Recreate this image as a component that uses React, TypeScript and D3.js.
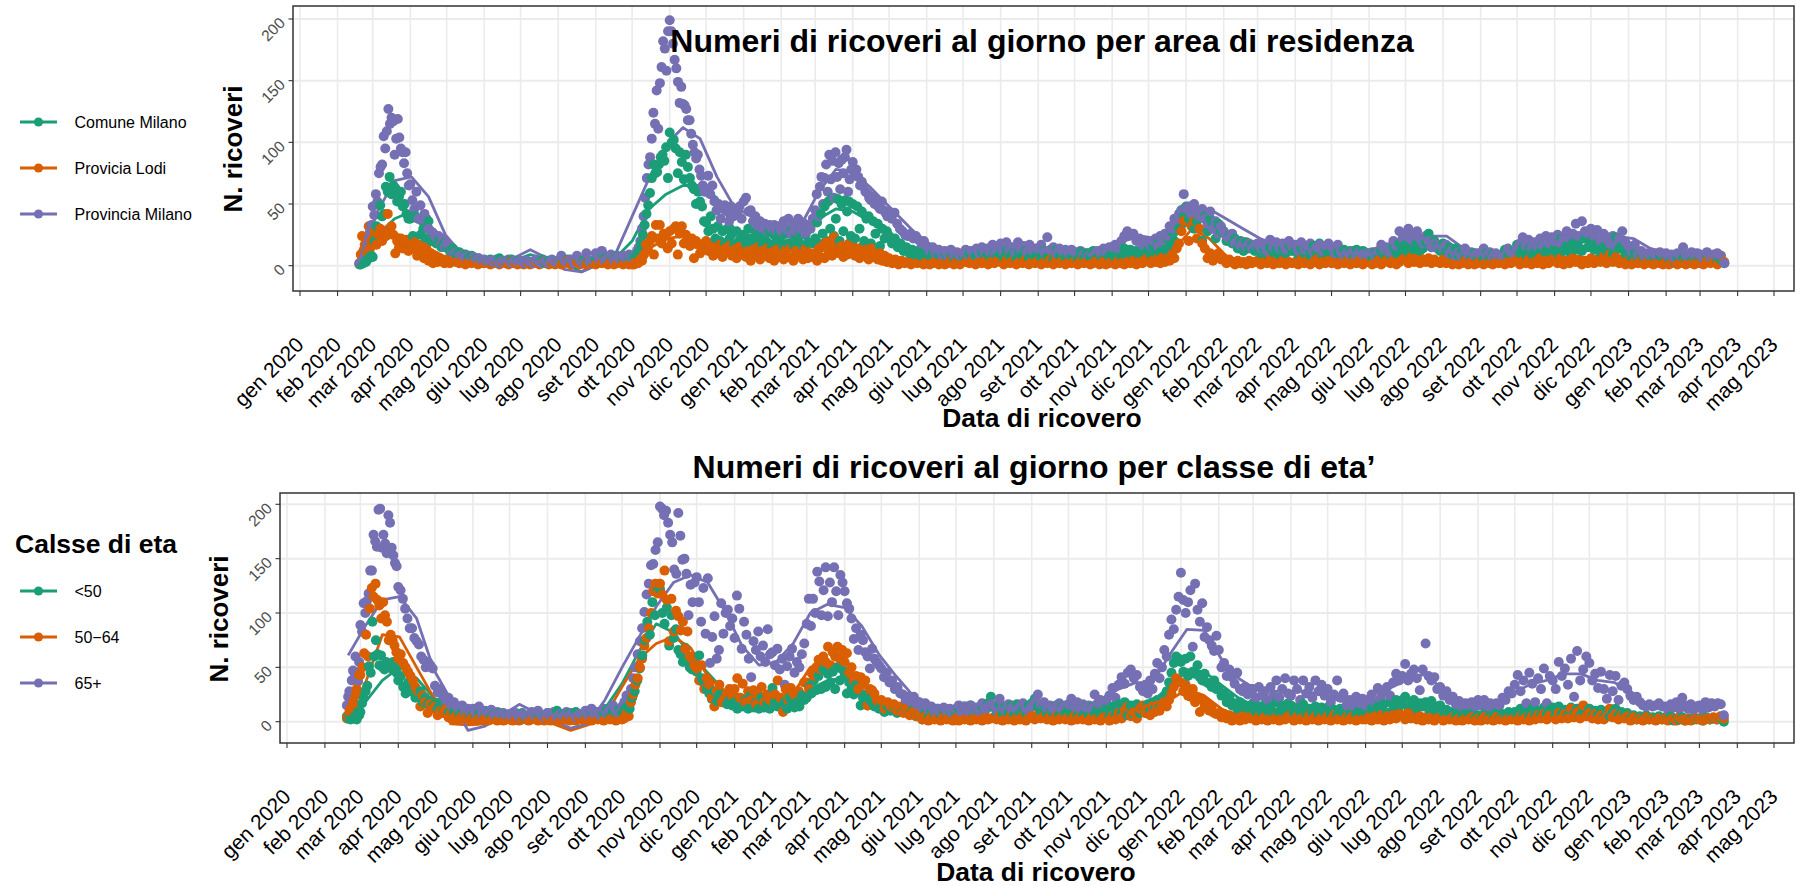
import React from "react";
import * as d3 from "d3";

const monthNames = ["gen","feb","mar","apr","mag","giu","lug","ago","set","ott","nov","dic"];
const colors = ["#1B9E77", "#D95F02", "#7570B3"];
const yTicks = [0, 50, 100, 150, 200];
const firstDay = new Date(Date.UTC(2020, 1, 19));
const lastDay = new Date(Date.UTC(2023, 2, 21));
const lineStart = new Date(Date.UTC(2020, 1, 20));
const areaNames = ["Comune Milano", "Provicia Lodi", "Provincia Milano"];
const ageNames = ["<50", "50\u221264", "65+"];

// One row per month, February 2020 to March 2023: daily admissions.
const comuneMilano = [
[1,1,2,2,3,3,5,6,7,8],
[7,20,32,25,49,40,42,64,60,72,58,65,63,52,56,60,48,50,42,38],
[38,24,40,38,25,30,22,36,20,24,18,20,15,18],
[15,12,14,9,11,7,9,6,8,5,6,4],
[4,3,5,2,4,6,3,4,2,5,3,4],
[3,2,4,3,2,4,3,5,2,4,3,2],
[4,2,3,5,3,2,4,3,4,2,3,4],
[5,3,11,6,4,7,5,8,4,6,5,7],
[6,8,7,9,12,18,25,33,42,49,59,71,82,75,76,82,88,90,85,96,71],
[108,100,102,95,75,92,84,70,90,80,71,65,62,50,60,52,48,36],
[35,28,40,30,22,32,20,28,18,30,22,26,17,28,20,24],
[25,18,30,22,15,28,20,26,17,24,19,28,16,25,20,27],
[24,16,26,18,28,17,24,20,27,16,25,19,30,18],
[22,35,18,42,26,48,20,52,30,55,24,38,54,20,50,28,53,44,52,24],
[50,22,48,30,44,20,38,40,18,36,26,34,16,30,22,28],
[24,18,22,15,18,12,15,10,13,9,12,8,10],
[11,8,10,6,9,7,10,6,8,5,9,7],
[8,5,10,6,8,7,11,6,9,5,10,7],
[9,6,12,7,10,5,11,8,12,6,10,7],
[10,6,12,7,9,5,13,8,11,6,10,7],
[9,5,11,6,10,7,12,6,9,5,11,7],
[10,6,12,7,14,8,13,7,12,8,15,10],
[14,9,16,10,18,11,20,13,22,15,28,20,36,30,45,40],
[48,38,42,30,36,40,20,40,28,38,34,22,34,28],
[28,20,24,18,22,14,20,12,19,14,17,12],
[16,10,14,9,15,11,13,8,14,10,17,12],
[15,9,14,10,15,8,16,11,18,9,14,10],
[12,7,11,8,13,9,12,7,13,8,12,9],
[10,6,11,7,12,8,14,9,15,10,18,12],
[17,11,20,13,18,12,14,19,26,15,20,16,12],
[18,12,15,9,14,8,11,6,9,7,10,6],
[8,5,10,6,9,5,8,6,13,8,10,12],
[17,10,15,8,14,9,13,10,16,11,15,9],
[14,10,22,12,16,11,18,13,20,12,22,15],
[20,13,18,11,15,12,16,10,23,14,16,10],
[12,6,10,5,8,6,9,4,7,5,8,6],
[7,4,6,3,7,5,6,3,7,4,6,5],
[6,3,7,4,6,3,5,2],
];
const provinciaLodi = [
[2,9,24,12,17,22,10,32,14,20],
[22,28,17,25,30,20,28,24,42,30,32,25,10,20,15,22,14,18,21,12],
[18,14,19,8,17,12,6,15,4,10,2,8,3,6,4,2],
[5,2,4,3,2,5,1,3,2,4,1,3],
[2,3,1,2,4,1,3,2,1,3,2,1],
[2,1,3,1,2,3,1,2,4,1,2,1],
[3,1,2,4,1,2,3,1,2,1,3,2],
[1,3,2,4,1,3,1,2,3,1,2,1],
[1,1,3,2,5,4,9,17,13,20,24,9,33,22,33,18,26,24,14],
[28,18,30,32,9,26,32,18,25,22,16,22,6,20,17,10,14,18],
[20,12,18,8,15,10,17,7,14,11,16,8,13,6,15,9],
[14,7,12,4,13,8,15,5,12,9,14,6,11,4,13,8],
[12,5,13,7,15,4,12,8,11,5,14,6,10,7],
[10,4,14,7,16,6,19,9,17,8,23,12,18,10,16,7,15,9,18,11],
[16,8,14,6,15,9,13,5,14,7,12,5,10,4,8,3],
[6,2,5,1,4,2,3,1,4,2,3,1],
[3,1,2,4,1,3,1,2,4,1,3,1],
[10,3,2,5,1,3,2,4,1,3,2,4],
[3,1,5,2,4,1,3,2,5,1,3,2],
[4,1,3,2,5,1,6,2,4,1,3,2],
[3,1,4,2,3,1,2,4,1,3,1,2],
[3,1,4,2,1,3,2,4,1,3,2,5],
[4,2,5,3,6,2,7,3,5,4,9,6,14,18,28,36],
[37,20,32,36,22,30,18,14,6,10,4,8,10,5],
[6,2,5,3,1,4,2,3,1,4,2,3],
[4,1,3,2,5,1,3,2,4,1,3,2],
[3,1,5,2,4,1,3,5,1,3,2,4],
[2,5,1,3,2,4,1,3,2,5,1,3],
[3,1,2,4,1,3,5,2,4,1,3,5],
[6,2,7,3,6,2,5,3,6,2,5,3,2],
[5,2,4,1,3,1,2,4,1,3,1,2],
[4,1,3,2,1,3,2,4,1,3,2,4],
[5,1,4,2,5,1,3,2,6,1,4,2,5],
[5,2,6,1,4,2,6,3,5,1,4,2],
[6,2,5,3,7,2,9,3,7,2,5,1],
[4,1,3,2,4,1,3,2,1,3,2,1],
[3,1,2,4,1,3,2,1,3,2,1,3],
[2,1,4,2,6,1,8,3],
];
const provinciaMilano = [
[2,2,3,5,8,12,17,22,28,33],
[48,41,58,52,75,80,82,105,95,109,127,115,120,117,90,103,119,104,95,92,83,92,75,65],
[66,53,46,60,38,49,36,42,38,30,28,27,25,22,24,17,22,15],
[18,14,12,10,11,8,9,7,8,6,7,5,6,4],
[5,3,4,3,5,2,4,3,5,2,4,3],
[4,2,4,3,2,5,3,2,4,2,5,3],
[3,8,4,3,5,2,8,4,2,10,3,4],
[10,5,12,4,6,9,4,7,5,8,6,9],
[6,7,9,12,15,20,30,40,55,71,82,88,103,124,115,142,111,148,161,182,176,158,190],
[199,190,180,167,160,149,132,145,131,130,127,118,118,107,98,92,87,90,78,73,65,60],
[62,73,58,65,52,45,50,38,46,49,44,36,48,40,46,42,48,38],
[52,55,44,45,36,40,32,36,30,34,28,33,30,33,28,32],
[28,36,30,38,26,34,28,38,30,35,26,33,30,38],
[45,58,40,64,72,50,71,82,60,90,70,85,55,92,72,83,62,86,75,88,94,60,70,78],
[84,76,78,72,65,68,64,60,59,55,53,56,50,53,48,46,52,45,43,40],
[44,38,43,34,30,28,25,24,26,22,24,21,18,20],
[16,12,15,10,13,9,12,8,13,9,11,8],
[10,13,8,12,9,14,10,15,9,14,11,17,10,16],
[18,11,19,12,15,10,19,13,16,11,17,12,14],
[14,17,11,23,13,15,10,14,12,13,10,13],
[11,8,12,9,10,8,11,9,12,10,14,11,15],
[15,17,14,20,24,28,25,26,20,22,17,20],
[18,16,20,22,16,24,20,26,24,32,30,38,36,42,45,58],
[46,48,42,50,44,40,46,38,34,44,30,36,26,32],
[28,24,22,26,18,20,16,19,15,18,14,17],
[18,14,17,12,21,15,19,14,18,13,20,16],
[17,12,19,13,16,18,11,15,17,12,16,18],
[15,10,17,11,8,11,9,12,8,11,9,10],
[9,11,8,12,17,13,15,11,20,16,28,22],
[24,30,21,26,28,22,18,24,20,15,18,14,17],
[14,17,10,13,8,11,7,14,9,11,8,10],
[10,14,8,11,7,10,8,9,8,14,11,10],
[14,18,23,16,21,14,19,15,22,16,24,18,23],
[20,25,18,23,28,22,26,34,24,36,28,26],
[30,24,29,20,26,22,18,24,16,22,28,19],
[16,11,17,9,12,8,10,9,10,8,11,9],
[10,7,9,6,10,8,15,9,7,11,8,10],
[9,6,11,7,9,10,8,2],
];
const under50 = [
[5,3,6,2,5,3,4,3,2,9,6],
[9,17,22,28,33,51,45,92,60,75,62,52,61,50,48,55,50,52,49,55,50,45],
[38,42,32,26,36,28,31,22,25,28,18,22,16,19,14],
[16,12,18,10,13,8,11,9,12,7,9,6,8,5],
[7,4,8,3,6,9,4,7,3,8,5,6],
[6,3,7,4,8,3,5,7,3,6,4,5],
[8,4,6,10,5,7,3,8,5,9,4,6],
[8,5,10,6,9,5,8,11,6,10,7,11],
[8,11,14,12,22,28,38,49,61,75,92,80,110,98,120],
[122,100,90,105,70,98,77,85,66,62,55,68,58,50,48,52],
[46,61,40,35,30,26,21,28,19,25,18,24,16,20,15],
[18,12,22,14,20,12,24,13,18,12,22,13,16,12],
[31,18,14,20,13,18,12,22,16,13,18,14,24,20],
[22,32,26,38,29,42,30,48,32,44,36,46,30,50,38,48],
[42,26,36,30,25,34,28,15,22,25,15,20,18,14,17,12],
[16,9,14,10,15,8,13,9,12,7,11,5],
[6,2,8,4,10,5,12,6,9,3,10,6],
[8,12,5,14,7,15,6,12,8,14,10,17,23],
[14,9,16,7,14,8,15,6,16,8,13,7,15],
[17,21,14,8,16,7,13,8,15,6,14,8],
[13,7,14,5,12,6,14,5,13,7,12,5,14],
[12,5,14,6,16,8,18,6,15,7,16,8],
[14,8,16,10,18,12,20,13,22,24,28,36,45,54,60,58],
[55,46,58,42,60,46,44,52,41,38,44,36,35,32,38,30],
[30,24,26,18,22,15,17,12,18,10,14,12,15],
[17,9,14,8,16,10,13,7,18,9,15,8,17],
[15,8,13,9,16,7,12,8,14,7,13,8],
[13,7,11,6,12,8,10,5,11,7,10,6],
[9,6,12,8,14,9,16,8,18,11,20,14],
[20,23,13,16,20,12,17,14,18,12,19,11,14],
[15,9,11,7,9,5,8,4,7,5,8,3],
[6,3,7,2,6,4,8,3,7,5,9,6],
[9,6,12,7,11,5,12,6,10,6,13,7,11],
[13,6,14,7,11,6,13,7,12,5,10,6],
[12,5,10,6,11,4,9,5,8,12,6,9,7],
[8,3,6,2,5,3,6,2,4,3,5,2],
[4,2,5,1,3,2,4,1,3,2,4,2],
[3,1,4,2,3,2,4,0],
];
const age50to64 = [
[3,5,9,12,8,18,15,25,30,37,43],
[43,50,63,80,60,104,123,115,127,112,107,95,110,98,92,75,80,75,70,64],
[58,62,54,50,46,42,38,32,28,14,24,18,8,16,12],
[14,6,10,8,12,4,8,3,6,2,5,3,6,1],
[4,1,3,2,4,1,2,3,1,3,1,2],
[2,1,3,1,2,4,1,2,3,1,2,1],
[3,1,2,4,1,3,2,1,3,1,4,2],
[2,3,1,4,2,3,1,4,2,3,1,4],
[2,3,8,5,18,25,34,40,50,58,70,77,86,100,120,127,118],
[127,117,139,112,74,113,83,102,97,84,92,67,83,60,58,52],
[49,38,52,30,40,34,22,14,28,34,18,21,26,30,24],
[30,40,22,35,18,28,20,29,16,24,32,18,25,20],
[20,25,38,22,9,30,20,31,26,22,28,24,36],
[36,30,45,42,50,57,48,60,55,69,52,64,60,69,58,66],
[55,63,45,50,38,42,30,41,34,38,15,30,29,26,20,18],
[20,12,18,14,16,10,14,8,12,6,9,5],
[6,2,5,1,4,2,3,1,4,2,3,1],
[3,1,4,2,5,1,3,2,5,1,4,2,3],
[4,2,5,1,3,2,6,1,4,2,5,1,3],
[5,2,6,3,5,2,4,1,5,2,4,2],
[4,1,5,2,4,2,3,1,4,2,3,1,4],
[4,1,5,2,8,3,10,14,5,9,3,12],
[15,8,12,6,14,9,15,10,16,18,14,20,26,32,40,36],
[36,28,34,24,23,30,18,22,9,20,14,16,10,14,8,7],
[8,4,7,3,6,1,5,3,1,5,2,4,3],
[4,1,5,2,4,1,3,2,4,1,3,2,5],
[3,1,5,2,4,1,6,2,5,1,4,2],
[5,1,6,2,3,1,4,2,5,1,3,2],
[2,4,1,5,2,6,1,5,2,6,3,7],
[6,2,8,3,7,2,5,1,4,2,4,1,3],
[4,1,3,2,4,1,3,1,3,2,4,1],
[3,1,4,2,3,1,4,2,3,1,3,2],
[3,1,5,2,4,1,5,2,6,3,7,2,6],
[5,2,8,3,7,3,12,4,9,3,15,5],
[8,3,7,2,6,2,5,12,4,7,2,6,3],
[5,1,4,2,3,1,4,2,3,1,3,2],
[3,1,2,3,1,4,2,1,3,1,2,3],
[2,1,3,2,4,2,5,3],
];
const over65 = [
[15,23,28,20,38,47,40,60,45,38,55],
[89,83,109,100,111,118,139,139,172,166,161,195,196,160,172,164,155,190,183,160,153,146,143],
[124,121,113,104,95,86,86,77,74,71,60,57,50,55,52,49],
[33,27,30,24,20,22,15,18,14,12,15,10,12,9],
[12,8,14,7,10,8,11,6,9,7,8,5],
[7,5,8,4,7,5,6,9,5,10,6,4],
[8,5,9,4,7,5,9,6,8,4,7,6],
[10,6,12,7,9,5,12,7,11,15,10,8],
[14,18,24,21,30,40,50,62,74,86,101,117,127,144,145,158,165],
[198,196,190,194,183,172,165,140,136,192,171,149,150,136,98,126,110,128],
[133,110,92,123,81,132,54,78,97,58,66,109,81,100,103,88,95],
[77,116,104,67,92,80,58,41,74,66,83,60,70,55,85,62],
[64,52,67,48,58,34,51,60,67,45,55,50,62,72],
[90,113,88,113,100,138,129,98,121,142,97,128,110,142,120,98,135,128],
[120,109,104,95,76,86,66,80,75,64,60,49,67,58,55,52],
[49,41,45,36,38,30,32,26,25,20,23,18,23,16],
[18,13,17,11,14,10,12,9,13,10,12,8],
[12,15,9,14,10,15,11,13,10,17,12,14,16],
[15,11,21,14,10,16,12,15,11,14,17,12,10],
[14,18,25,16,18,13,15,12,14,17,12,15],
[16,21,14,18,12,16,13,15,12,25,17,20,16],
[20,24,31,22,34,41,35,45,48,40,43,32],
[28,34,26,38,30,44,54,40,50,66,60,80,94,85,103,115],
[137,112,100,110,121,69,127,103,92,109,78,87,75,70,65,79],
[66,50,54,42,48,41,35,45,30,28,32,25,30],
[30,22,32,24,28,20,32,24,38,22,30,40,26],
[24,38,30,20,38,26,32,22,38,28,34,24],
[30,18,25,38,22,26,15,20,14,23,17,21],
[15,20,25,18,31,22,28,32,24,36,44,38],
[42,53,38,44,48,40,29,48,72,42,38,41,30],
[32,24,28,20,23,16,19,14,17,15,18,14],
[20,15,20,14,17,13,17,15,22,20,28,26],
[34,43,28,38,17,45,35,18,40,30,49,17,42],
[38,30,55,42,49,34,58,23,65,38,48,60],
[54,38,44,31,46,30,21,43,28,42,20,33,36],
[30,24,20,23,18,15,14,16,14,15,17,14],
[14,11,16,13,18,12,22,15,12,16,11,14],
[15,11,18,13,17,14,17,16,6],
];

// Trend lines: one value every 14 days from 20 February 2020.
const comuneTrend = [1,25,38,44,34,18,8,1,1,4,9,5,2,-5,1,6,20,46,58,65,65,55,
30,24,20,20,24,38,46,44,36,26,18,12,9,8,8,8,9,9,9,8,8,8,9,10,11,14,24,38,36,24,16,13,12,11,11,10,9,9,10,13,16,14,9,8,8,8,10,12,14,15,16,15,14,8,6,5,5,4,4];
const lodiTrend = [12,22,26,22,14,7,3,1,2,2,2,2,2,2,2,2,5,14,22,24,20,14,
10,9,9,9,9,12,13,12,10,7,4,3,2,2,2,3,3,3,3,3,2,2,2,2,3,4,14,30,22,8,3,3,3,3,3,3,3,3,3,4,4,4,3,2,3,3,3,3,3,3,4,4,3,2,2,2,2,2,2];
const milanoTrend = [5,44,69,72,56,25,9,-1,1,6,13,6,-3,-5,1,9,40,71,98,112,103,72,
48,40,34,32,34,60,78,76,64,50,36,22,14,12,12,13,14,14,15,13,12,11,12,20,24,22,30,42,46,38,30,22,17,16,15,14,14,11,10,11,15,24,24,14,10,10,10,14,19,21,25,28,24,22,14,10,9,9,9,8];
const under50Trend = [3,18,38,50,40,22,12,2,2,4,7,6,4,4,5,12,35,65,90,82,62,45,28,
22,20,18,20,30,38,40,28,20,12,9,7,8,9,10,11,11,11,10,9,9,10,11,13,17,30,48,46,34,22,14,12,11,11,9,10,11,14,16,15,14,9,6,6,8,9,10,10,9,9,8,8,5,4,3,3,3,3];
const age50Trend = [5,35,80,78,50,22,-2,-3,-2,3,4,3,-2,-8,-3,5,32,58,72,78,68,42,28,
24,22,24,26,50,55,50,35,20,10,4,3,3,3,3,4,4,4,3,3,4,6,8,10,11,20,30,24,12,5,3,3,3,3,3,4,4,4,4,4,4,3,3,3,3,4,5,6,6,6,4,3,3,2,2,2,2,2];
const over65Trend = [61,88,112,115,95,48,20,-8,-4,6,16,8,1,-6,-2,20,50,78,106,128,135,128,102,
70,52,55,72,100,108,105,88,62,42,24,16,13,14,14,15,15,15,15,15,15,20,30,36,36,62,85,84,58,40,30,28,28,28,24,19,20,26,32,40,44,28,20,17,18,26,34,38,44,44,38,36,24,16,14,15,15,14];

const FONT = "'Liberation Sans', Arial, Helvetica, sans-serif";
const TICK = "#333333";
const GRID = "#ebebeb";
const DOT = 5;

type PanelProps = {
  left: number; right: number; top: number; bottom: number;
  xStart: number; xEnd: number; y0: number; y200: number;
  names: string[]; rows: number[][][]; trends: number[][];
  title: string; titleX: number; titleY: number;
  xTitleX: number; xTitleY: number;
  yTitleX: number; yTitleY: number;
  legendTitle?: string; legendTitleY?: number; legendYs: number[];
};

function flatten(rows: number[][]) {
  const out: { t: Date; v: number }[] = [];
  rows.forEach((row, m) => {
    const monthStart = new Date(Date.UTC(2020, 1 + m, 1));
    const monthEnd = new Date(Date.UTC(2020, 2 + m, 1));
    const a = +(monthStart < firstDay ? firstDay : monthStart);
    const b = +(monthEnd > lastDay ? lastDay : monthEnd);
    const isLast = m === rows.length - 1;
    row.forEach((v, j) => {
      const f = isLast ? j / (row.length - 1) : j / row.length;
      out.push({ t: new Date(a + f * (b - a)), v });
    });
  });
  return out;
}

function Panel(p: PanelProps) {
  const x = d3.scaleUtc()
    .domain([new Date(Date.UTC(2020, 0, 1)), new Date(Date.UTC(2023, 4, 1))])
    .range([p.xStart, p.xEnd]);
  const y = d3.scaleLinear().domain([0, 200]).range([p.y0, p.y200]);
  const months = d3.utcMonth.range(new Date(Date.UTC(2020, 0, 1)), new Date(Date.UTC(2023, 4, 2)));
  const lineDate = (i: number) => d3.utcDay.offset(lineStart, i * 14);
  const line = d3.line<number>()
    .defined((_, i) => lineDate(i) <= lastDay)
    .x((_, i) => x(lineDate(i)))
    .y((v) => y(v));

  const pts = p.rows
    .flatMap((rows, s) => flatten(rows).map((d) => ({ ...d, s })))
    .sort((a, b) => +a.t - +b.t || a.s - b.s);

  return (
    <g fontFamily={FONT}>
      {yTicks.map((t) => (
        <line key={t} x1={p.left} x2={p.right} y1={y(t)} y2={y(t)} stroke={GRID} strokeWidth={2} />
      ))}
      {months.map((m) => (
        <line key={+m} x1={x(m)} x2={x(m)} y1={p.top} y2={p.bottom} stroke={GRID} strokeWidth={1.6} />
      ))}
      {p.trends.map((tr, s) => (
        <path key={s} d={line(tr) || ""} fill="none" stroke={colors[s]} strokeWidth={2.8} strokeLinejoin="round" />
      ))}
      {pts.map((d, i) => (
        <circle key={i} cx={x(d.t)} cy={y(d.v)} r={DOT} fill={colors[d.s]} />
      ))}
      <rect x={p.left} y={p.top} width={p.right - p.left} height={p.bottom - p.top} fill="none" stroke={TICK} strokeWidth={1.5} />
      {yTicks.map((t) => (
        <g key={t}>
          <line x1={p.left - 4.5} x2={p.left} y1={y(t)} y2={y(t)} stroke={TICK} strokeWidth={1.1} />
          <text transform={`translate(${p.left - 7},${y(t) + 5}) rotate(-45)`} textAnchor="end" fontSize={15.5} fill="#4D4D4D">{t}</text>
        </g>
      ))}
      {months.map((m) => (
        <g key={+m}>
          <line x1={x(m)} x2={x(m)} y1={p.bottom} y2={p.bottom + 5} stroke={TICK} strokeWidth={1.1} />
          <text transform={`translate(${x(m) + 5},${p.bottom + 55}) rotate(-45)`} textAnchor="end" fontSize={21} fill="#000">
            {`${monthNames[m.getUTCMonth()]} ${m.getUTCFullYear()}`}
          </text>
        </g>
      ))}
      <text x={p.titleX} y={p.titleY} textAnchor="middle" fontSize={32} fontWeight="bold" fill="#000">{p.title}</text>
      <text x={p.xTitleX} y={p.xTitleY} textAnchor="middle" fontSize={26.4} fontWeight="bold" fill="#000">Data di ricovero</text>
      <text transform={`translate(${p.yTitleX},${p.yTitleY}) rotate(-90)`} textAnchor="middle" fontSize={26} fontWeight="bold" fill="#000">N. ricoveri</text>
      {p.legendTitle && (
        <text x={15} y={p.legendTitleY} fontSize={26.5} fontWeight="bold" fill="#000">{p.legendTitle}</text>
      )}
      {p.names.map((n, i) => (
        <g key={n}>
          <line x1={20} x2={57} y1={p.legendYs[i]} y2={p.legendYs[i]} stroke={colors[i]} strokeWidth={2.8} />
          <circle cx={38.5} cy={p.legendYs[i]} r={4.6} fill={colors[i]} />
          <text x={74.5} y={p.legendYs[i] + 5.5} fontSize={16} fill="#000">{n}</text>
        </g>
      ))}
    </g>
  );
}

export default function App() {
  return (
    <svg width={1797} height={886} style={{ position: "absolute", left: 0, top: 0, display: "block" }}>
      <rect width={1797} height={886} fill="#fff" />
      <Panel
        left={293} right={1794} top={6} bottom={291}
        xStart={300} xEnd={1774} y0={265.7} y200={19}
        names={areaNames} rows={[comuneMilano, provinciaLodi, provinciaMilano]}
        trends={[comuneTrend, lodiTrend, milanoTrend]}
        title="Numeri di ricoveri al giorno per area di residenza"
        titleX={1042} titleY={52}
        xTitleX={1042} xTitleY={427}
        yTitleX={242} yTitleY={149}
        legendYs={[122, 168, 214]}
      />
      <Panel
        left={280} right={1794} top={493} bottom={743}
        xStart={287} xEnd={1774} y0={721.7} y200={504.3}
        names={ageNames} rows={[under50, age50to64, over65]}
        trends={[under50Trend, age50Trend, over65Trend]}
        title="Numeri di ricoveri al giorno per classe di eta’"
        titleX={1034} titleY={478}
        xTitleX={1036} xTitleY={881}
        yTitleX={228} yTitleY={619}
        legendTitle="Calsse di eta" legendTitleY={553}
        legendYs={[591, 637, 683]}
      />
    </svg>
  );
}
